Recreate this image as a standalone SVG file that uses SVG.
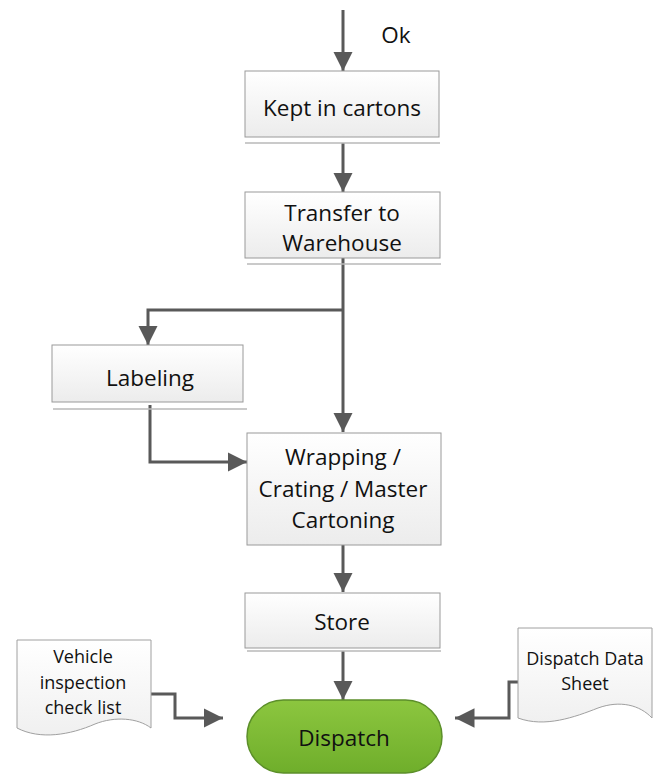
<svg xmlns="http://www.w3.org/2000/svg" width="662" height="776" viewBox="0 0 662 776">
  <defs>
    <linearGradient id="boxFill" x1="0" y1="0" x2="0" y2="1">
      <stop offset="0" stop-color="#ffffff"/>
      <stop offset="1" stop-color="#ececec"/>
    </linearGradient>
    <linearGradient id="docFill" x1="0" y1="0" x2="0" y2="1">
      <stop offset="0" stop-color="#ffffff"/>
      <stop offset="1" stop-color="#f0f0f0"/>
    </linearGradient>
    <linearGradient id="termFill" x1="0" y1="0" x2="0" y2="1">
      <stop offset="0" stop-color="#8cc63f"/>
      <stop offset="1" stop-color="#6fae2b"/>
    </linearGradient>
    <marker id="arrow" viewBox="0 0 10 10" refX="10" refY="5" markerWidth="6.5" markerHeight="6.5" markerUnits="strokeWidth" orient="auto">
      <path d="M0,0 L10,5 L0,10 z" fill="#595959"/>
    </marker>
  </defs>
  <style>
    .box { fill: url(#boxFill); stroke: #9a9a9a; stroke-width: 1; }
    .shadow { stroke: #b8b8b8; stroke-width: 1.5; fill: none; }
    .doc { fill: url(#docFill); stroke: #a0a0a0; stroke-width: 1; }
    .term { fill: url(#termFill); stroke: #5c8f2a; stroke-width: 1.5; }
    .label { font-family: "Open Sans", "Noto Sans", sans-serif; font-size: 22.5px; fill: #111; text-anchor: middle; }
    .small { font-family: "Open Sans", "Noto Sans", sans-serif; font-size: 18px; fill: #111; text-anchor: middle; }
    .conn { fill: none; stroke: #595959; stroke-width: 3; marker-end: url(#arrow); }
    .line { fill: none; stroke: #595959; stroke-width: 3; }
  </style>

  <text class="label" x="396" y="43">Ok</text>

  <g id="connectors">
    <path class="conn" d="M343,10 V71"/>
    <path class="conn" d="M343,143 V192"/>
    <path class="line" d="M343,258 V310"/>
    <path class="conn" d="M343,310 H148 V345"/>
    <path class="conn" d="M343,310 V432"/>
    <path class="conn" d="M150,405 V462 H247"/>
    <path class="conn" d="M343,545 V592"/>
    <path class="conn" d="M343,651 V700"/>
    <path class="conn" d="M151,694 H175 V718 H223"/>
    <path class="conn" d="M518,682 H509 V718 H455"/>
  </g>

  <g id="kept">
    <rect class="box" x="245" y="71" width="194" height="66"/>
    <line class="shadow" x1="245" y1="143" x2="440" y2="143"/>
    <text class="label" x="342" y="116">Kept in cartons</text>
  </g>

  <g id="transfer">
    <rect class="box" x="245" y="192" width="195" height="66"/>
    <line class="shadow" x1="247" y1="264" x2="441" y2="264"/>
    <text class="label" x="342" y="221">Transfer to</text>
    <text class="label" x="342" y="251">Warehouse</text>
  </g>

  <g id="labeling">
    <rect class="box" x="52" y="345" width="191" height="57"/>
    <line class="shadow" x1="53" y1="409" x2="247" y2="409"/>
    <text class="label" x="150" y="386">Labeling</text>
  </g>

  <g id="wrapping">
    <rect class="box" x="247" y="433" width="194" height="112" stroke="#777"/>
    <text class="label" x="343" y="465">Wrapping /</text>
    <text class="label" x="343" y="497">Crating / Master</text>
    <text class="label" x="343" y="528">Cartoning</text>
  </g>

  <g id="store">
    <rect class="box" x="245" y="593" width="195" height="55"/>
    <line class="shadow" x1="247" y1="651" x2="441" y2="651"/>
    <text class="label" x="342" y="630">Store</text>
  </g>

  <g id="dispatch">
    <rect class="term" x="247" y="700" width="195" height="73" rx="36.5" ry="36.5"/>
    <text class="label" x="344" y="746">Dispatch</text>
  </g>

  <g id="vehicle">
    <path class="doc" d="M17,640 H151 V728 C138,718 115,716 95,724 C70,735 40,740 17,728 Z"/>
    <text class="small" x="83" y="663">Vehicle</text>
    <text class="small" x="83" y="689">inspection</text>
    <text class="small" x="83" y="714">check list</text>
  </g>

  <g id="datasheet">
    <path class="doc" d="M518,628 H652 V718 C640,705 620,700 598,708 C575,717 545,728 518,718 Z"/>
    <text class="small" x="585" y="665">Dispatch Data</text>
    <text class="small" x="585" y="690">Sheet</text>
  </g>
</svg>
